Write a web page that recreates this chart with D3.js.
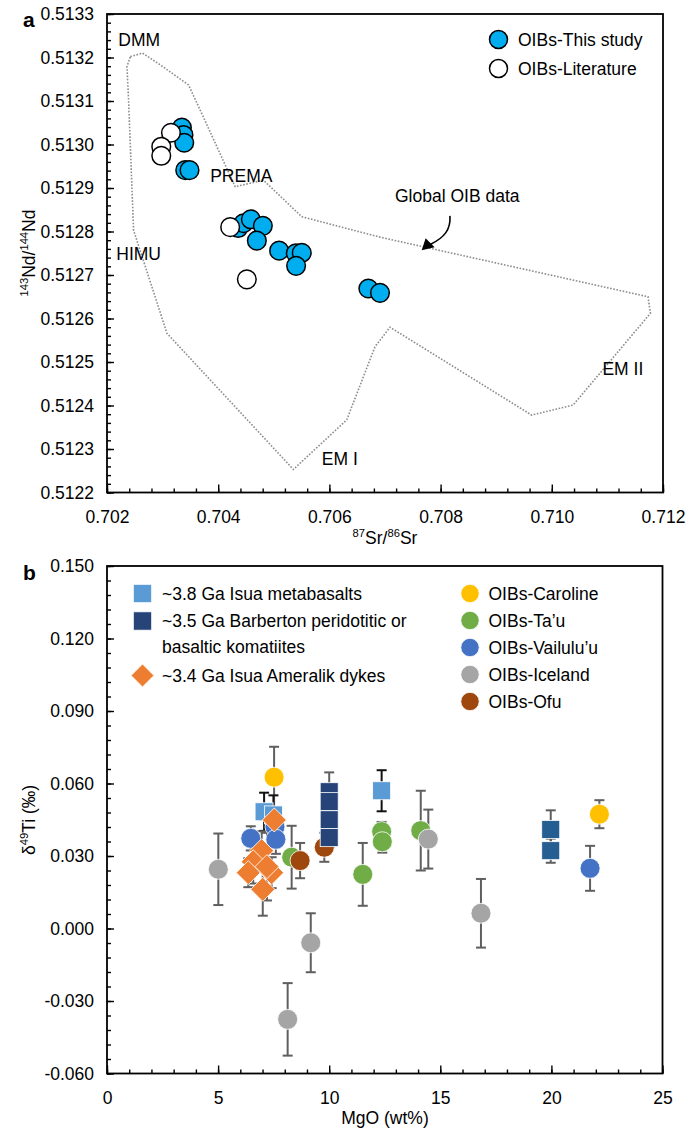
<!DOCTYPE html>
<html>
<head>
<meta charset="utf-8">
<script src="https://cdn.jsdelivr.net/npm/d3@7"></script>
<style>
  html, body { margin: 0; padding: 0; background: #fff; }
  svg { display: block; }
  text { font-family: "Liberation Sans", Arial, Helvetica, sans-serif; fill: #000; }
</style>
</head>
<body>
<svg id="fig" width="689" height="1134"></svg>
<script>
// ---------- Panel a: 87Sr/86Sr vs 143Nd/144Nd ----------
const srThisStudy = [0.703347, 0.703376, 0.703389, 0.703407, 0.703484, 0.704359, 0.704454, 0.704587,
                     0.704803, 0.704695, 0.705096, 0.705396, 0.705503, 0.705401, 0.706700, 0.706910];
const ndThisStudy = [0.513039, 0.513022, 0.513004, 0.512941, 0.512941, 0.512808, 0.512819, 0.512828,
                     0.512813, 0.512779, 0.512756, 0.512750, 0.512751, 0.512721, 0.512669, 0.512659];
const srLiterature = [0.703150, 0.702976, 0.702976, 0.704215, 0.704515];
const ndLiterature = [0.513027, 0.512995, 0.512974, 0.512810, 0.512690];

// outline of the global OIB field
const oibFieldSr = [0.702419, 0.702640, 0.702958, 0.703466, 0.703676, 0.704305, 0.704814, 0.705503,
                    0.706910, 0.711730, 0.711774, 0.710383, 0.709636, 0.707090, 0.706820, 0.706312,
                    0.705352, 0.703078, 0.702478, 0.702388, 0.702359];
const oibFieldNd = [0.513202, 0.513210, 0.513183, 0.513137, 0.513079, 0.512903, 0.512918, 0.512834,
                    0.512787, 0.512650, 0.512612, 0.512401, 0.512378, 0.512580, 0.512535, 0.512367,
                    0.512253, 0.512566, 0.512803, 0.513102, 0.513179];

// mantle end-member labels
const endMemberNames = ["DMM", "PREMA", "HIMU", "EM I", "EM II"];
const endMemberSr = [0.702203, 0.703856, 0.702167, 0.705863, 0.710911];
const endMemberNd = [0.513226, 0.512913, 0.512734, 0.512263, 0.512470];

const srTicks = [0.702, 0.704, 0.706, 0.708, 0.710, 0.712];
const ndTicks = [0.5122, 0.5123, 0.5124, 0.5125, 0.5126, 0.5127, 0.5128, 0.5129, 0.5130, 0.5131, 0.5132, 0.5133];

// ---------- Panel b: MgO vs d49Ti ----------
const isua38MgO = [7.07, 7.49, 12.36];
const isua38Ti  = [0.0483, 0.0470, 0.0570];
const isua38Err = [0.0079, 0.0081, 0.0085];

const barbertonMgO = [10.0, 10.0, 10.0, 10.0];
const barbertonTi  = [0.0566, 0.0525, 0.0450, 0.0376];
const barbertonErr = [0.0080, 0.0060, 0.0060, 0.0040];
const barbertonBMgO = [19.97, 19.97];
const barbertonBTi  = [0.0410, 0.0322];
const barbertonBErr = [0.0079, 0.0050];

const ameralikMgO = [7.53, 6.96, 6.58, 6.36, 7.41, 7.20, 7.01];
const ameralikTi  = [0.0449, 0.0322, 0.0276, 0.0231, 0.0231, 0.0256, 0.0162];
const ameralikErr = [0.0040, 0.0080, 0.0090, 0.0060, 0.0064, 0.0140, 0.0109];

const carolineMgO = [7.52, 22.16];
const carolineTi  = [0.0626, 0.0473];
const carolineErr = [0.0126, 0.0058];

const tauMgO = [8.31, 11.51, 12.36, 12.39, 14.12];
const tauTi  = [0.0295, 0.0224, 0.0401, 0.0359, 0.0405];
const tauErr = [0.0130, 0.0130, 0.0040, 0.0045, 0.0165];

const vailuluuMgO = [6.47, 7.56, 7.60, 21.74];
const vailuluuTi  = [0.0373, 0.0421, 0.0369, 0.0249];
const vailuluuErr = [0.0050, 0.0050, 0.0060, 0.0093];

const icelandMgO = [5.01, 9.17, 8.13, 14.46, 16.83];
const icelandTi  = [0.0245, -0.0059, -0.0376, 0.0370, 0.0063];
const icelandErr = [0.0148, 0.0122, 0.0150, 0.0122, 0.0142];

const ofuMgO = [8.69, 9.78];
const ofuTi  = [0.0281, 0.0336];
const ofuErr = [0.0073, 0.0060];

const mgoTicks = [0, 5, 10, 15, 20, 25];
const tiTicks = [-0.060, -0.030, 0.000, 0.030, 0.060, 0.090, 0.120, 0.150];

// ---------- drawing ----------
const svg = d3.select("#fig");
const FONT = 17.5;

const xA = d3.scaleLinear().domain([0.702, 0.712]).range([107, 663]);
const yA = d3.scaleLinear().domain([0.5122, 0.5133]).range([492.5, 14]);
const xB = d3.scaleLinear().domain([0, 25]).range([107, 662.5]);
const yB = d3.scaleLinear().domain([-0.060, 0.150]).range([1073.5, 566]);

function zip(xs, ys, es) {
  return xs.map((x, i) => ({ x: x, y: ys[i], e: es ? es[i] : 0 }));
}

function drawAxes(x, y, xMajor, xMinor, yMajor, yMinor, fmtX, fmtY) {
  const [x0, x1] = x.range();
  const [y0, y1] = y.range();
  const g = svg.append("g");
  const styleAxis = sel => {
    sel.select(".domain").remove();
    sel.selectAll("line").attr("stroke", "#000").attr("stroke-width", 1.4);
    sel.selectAll("text").style("font-size", FONT + "px").attr("fill", "#000");
  };
  g.append("g").attr("transform", `translate(0,${y0})`)
    .call(d3.axisBottom(x).tickValues(xMinor).tickSize(-4).tickFormat(""))
    .call(styleAxis);
  g.append("g").attr("transform", `translate(0,${y0})`)
    .call(d3.axisBottom(x).tickValues(xMajor).tickSize(-8).tickPadding(18).tickFormat(fmtX))
    .call(styleAxis);
  g.append("g").attr("transform", `translate(${x0},0)`)
    .call(d3.axisLeft(y).tickValues(yMinor).tickSize(-4).tickFormat(""))
    .call(styleAxis);
  g.append("g").attr("transform", `translate(${x0},0)`)
    .call(d3.axisLeft(y).tickValues(yMajor).tickSize(-7).tickPadding(13).tickFormat(fmtY))
    .call(styleAxis);
  g.append("rect")
    .attr("x", x0).attr("y", y1).attr("width", x1 - x0).attr("height", y0 - y1)
    .attr("fill", "none").attr("stroke", "#000").attr("stroke-width", 1.8);
}

// superscript-aware label: parts = [[text, isSup], ...]
function richText(sel, parts, size) {
  let sup = false;
  parts.forEach(([t, s]) => {
    const ts = sel.append("tspan").text(t);
    if (s && !sup) { ts.attr("dy", -7).style("font-size", (size * 0.64) + "px"); sup = true; }
    else if (s) { ts.style("font-size", (size * 0.64) + "px"); }
    else if (!s && sup) { ts.attr("dy", 7).style("font-size", size + "px"); sup = false; }
    else { ts.style("font-size", size + "px"); }
  });
}

// ===== Panel a =====
drawAxes(xA, yA, srTicks,
  d3.range(0, 26).map(i => 0.702 + i * 0.0004),
  ndTicks,
  d3.range(0, 56).map(i => 0.5122 + i * 0.00002),
  d => d.toFixed(3), d => d.toFixed(4));

svg.append("text").attr("x", 23).attr("y", 27).style("font-size", "21px").style("font-weight", "bold").text("a");

// global OIB field outline
const field = zip(oibFieldSr, oibFieldNd);
svg.append("path")
  .datum(field)
  .attr("d", d3.line().x(d => xA(d.x)).y(d => yA(d.y)).curve(d3.curveLinearClosed))
  .attr("fill", "none").attr("stroke", "#8c8c8c").attr("stroke-width", 1.6)
  .attr("stroke-dasharray", "1.6,1.6");

// end-member labels
svg.append("g").selectAll("text")
  .data(endMemberNames.map((n, i) => ({ n: n, x: endMemberSr[i], y: endMemberNd[i] })))
  .join("text")
  .attr("x", d => xA(d.x)).attr("y", d => yA(d.y))
  .style("font-size", FONT + "px").text(d => d.n);

// "Global OIB data" note with curved arrow
svg.append("text").attr("x", xA(0.707180)).attr("y", yA(0.512868))
  .style("font-size", FONT + "px").text("Global OIB data");
const aStart = [xA(0.708168), yA(0.512836)];
const aTip = [xA(0.707659), yA(0.512757)];
svg.append("path")
  .attr("d", `M${aStart[0]},${aStart[1]} C${aStart[0] + 1},${aStart[1] + 14} ${aStart[0] - 6},${aStart[1] + 22} ${aTip[0] + 9},${aTip[1] - 6}`)
  .attr("fill", "none").attr("stroke", "#000").attr("stroke-width", 1.6);
svg.append("path")
  .attr("d", `M${aTip[0]},${aTip[1]} L${aTip[0] + 4},${aTip[1] - 12} L${aTip[0] + 13},${aTip[1] - 3} Z`)
  .attr("fill", "#000");

// data points: this study beneath literature
svg.append("g").selectAll("circle")
  .data(zip(srThisStudy, ndThisStudy))
  .join("circle")
  .attr("cx", d => xA(d.x)).attr("cy", d => yA(d.y)).attr("r", 9.3)
  .attr("fill", "#00AEEF").attr("stroke", "#000").attr("stroke-width", 1.5);
svg.append("g").selectAll("circle")
  .data(zip(srLiterature, ndLiterature))
  .join("circle")
  .attr("cx", d => xA(d.x)).attr("cy", d => yA(d.y)).attr("r", 9.3)
  .attr("fill", "#fff").attr("stroke", "#000").attr("stroke-width", 1.5);

// legend a
[["OIBs-This study", "#00AEEF", 39.5], ["OIBs-Literature", "#fff", 68.5]].forEach(([t, c, yy]) => {
  svg.append("circle").attr("cx", 498.5).attr("cy", yy).attr("r", 9)
    .attr("fill", c).attr("stroke", "#000").attr("stroke-width", 1.5);
  svg.append("text").attr("x", 518).attr("y", yy).attr("dy", "0.35em")
    .style("font-size", FONT + "px").text(t);
});

// axis titles a
richText(svg.append("text").attr("x", 385).attr("y", 544).attr("text-anchor", "middle"),
  [["87", true], ["Sr/", false], ["86", true], ["Sr", false]], FONT);
richText(svg.append("text").attr("transform", "translate(35,253) rotate(-90)").attr("text-anchor", "middle"),
  [["143", true], ["Nd/", false], ["144", true], ["Nd", false]], FONT);

// ===== Panel b =====
drawAxes(xB, yB, mgoTicks, d3.range(0, 26), tiTicks,
  d3.range(0, 36).map(i => -0.060 + i * 0.006),
  d => String(d), d => d.toFixed(3));

svg.append("text").attr("x", 23).attr("y", 580).style("font-size", "21px").style("font-weight", "bold").text("b");

const series = [
  { key: "tau",       pts: zip(tauMgO, tauTi, tauErr),                   shape: "circle",  color: "#70AD47", bar: "#5f5f5f" },
  { key: "iceland",   pts: zip(icelandMgO, icelandTi, icelandErr),       shape: "circle",  color: "#A5A5A5", bar: "#5f5f5f" },
  { key: "ofu",       pts: zip(ofuMgO, ofuTi, ofuErr),                   shape: "circle",  color: "#9E480E", bar: "#5f5f5f" },
  { key: "caroline",  pts: zip(carolineMgO, carolineTi, carolineErr),    shape: "circle",  color: "#FFC000", bar: "#5f5f5f" },
  { key: "isua38",    pts: zip(isua38MgO, isua38Ti, isua38Err),          shape: "square",  color: "#5B9BD5", bar: "#111" },
  { key: "barberton", pts: zip(barbertonMgO, barbertonTi, barbertonErr), shape: "square",  color: "#264478", bar: "#5f5f5f" },
  { key: "barbertonB",pts: zip(barbertonBMgO, barbertonBTi, barbertonBErr), shape: "square", color: "#255E91", bar: "#5f5f5f" },
  { key: "vailuluu",  pts: zip(vailuluuMgO, vailuluuTi, vailuluuErr),    shape: "circle",  color: "#4472C4", bar: "#5f5f5f" },
  { key: "ameralik",  pts: zip(ameralikMgO, ameralikTi, ameralikErr),    shape: "diamond", color: "#ED7D31", bar: "#5f5f5f" }
];

// error bars beneath all markers
const errG = svg.append("g");
series.forEach(s => {
  const g = errG.append("g").attr("stroke", s.bar).attr("stroke-width", 2).attr("fill", "none");
  s.pts.forEach(p => {
    const cx = xB(p.x), top = yB(p.y + p.e), bot = yB(p.y - p.e);
    g.append("line").attr("x1", cx).attr("x2", cx).attr("y1", top).attr("y2", bot);
    g.append("line").attr("x1", cx - 5).attr("x2", cx + 5).attr("y1", top).attr("y2", top);
    g.append("line").attr("x1", cx - 5).attr("x2", cx + 5).attr("y1", bot).attr("y2", bot);
  });
});

function drawMarker(g, shape, color, cx, cy, scale) {
  const k = scale || 1;
  if (shape === "circle") {
    g.append("circle").attr("cx", cx).attr("cy", cy).attr("r", 10 * k)
      .attr("fill", color).attr("stroke", "#fff").attr("stroke-width", 0.8);
  } else if (shape === "square") {
    const h = 9 * k;
    g.append("rect").attr("x", cx - h).attr("y", cy - h).attr("width", 2 * h).attr("height", 2 * h)
      .attr("fill", color).attr("stroke", "#fff").attr("stroke-width", 0.8);
  } else {
    g.append("path")
      .attr("d", d3.symbol(d3.symbolSquare, 290 * k * k)())
      .attr("transform", `translate(${cx},${cy}) rotate(45)`)
      .attr("fill", color).attr("stroke", "#fff").attr("stroke-width", 0.8);
  }
}

const markG = svg.append("g");
series.forEach(s => {
  const g = markG.append("g");
  s.pts.forEach(p => drawMarker(g, s.shape, s.color, xB(p.x), yB(p.y)));
});

// legend b
const legG = svg.append("g").style("font-size", FONT + "px");
drawMarker(legG, "square", "#5B9BD5", 142.5, 593.5, 1.02);
legG.append("text").attr("x", 162).attr("y", 593.5).attr("dy", "0.35em").text("~3.8 Ga Isua metabasalts");
drawMarker(legG, "square", "#264478", 142.5, 621, 1.02);
legG.append("text").attr("x", 162).attr("y", 621).attr("dy", "0.35em").text("~3.5 Ga Barberton peridotitic or");
legG.append("text").attr("x", 162).attr("y", 646.5).attr("dy", "0.35em").text("basaltic komatiites");
drawMarker(legG, "diamond", "#ED7D31", 142.5, 675.5, 0.95);
legG.append("text").attr("x", 162).attr("y", 675.5).attr("dy", "0.35em").text("~3.4 Ga Isua Ameralik dykes");

[["OIBs-Caroline", "#FFC000"], ["OIBs-Ta\u2019u", "#70AD47"], ["OIBs-Vailulu\u2019u", "#4472C4"],
 ["OIBs-Iceland", "#A5A5A5"], ["OIBs-Ofu", "#9E480E"]].forEach(([t, c], i) => {
  const yy = 593.5 + i * 27;
  drawMarker(legG, "circle", c, 470, yy, 0.92);
  legG.append("text").attr("x", 488.5).attr("y", yy).attr("dy", "0.35em").text(t);
});

// axis titles b
svg.append("text").attr("x", 385).attr("y", 1124).attr("text-anchor", "middle")
  .style("font-size", FONT + "px").text("MgO (wt%)");
richText(svg.append("text").attr("transform", "translate(35,820) rotate(-90)").attr("text-anchor", "middle"),
  [["\u03b4", false], ["49", true], ["Ti (\u2030)", false]], FONT);
</script>
</body>
</html>
